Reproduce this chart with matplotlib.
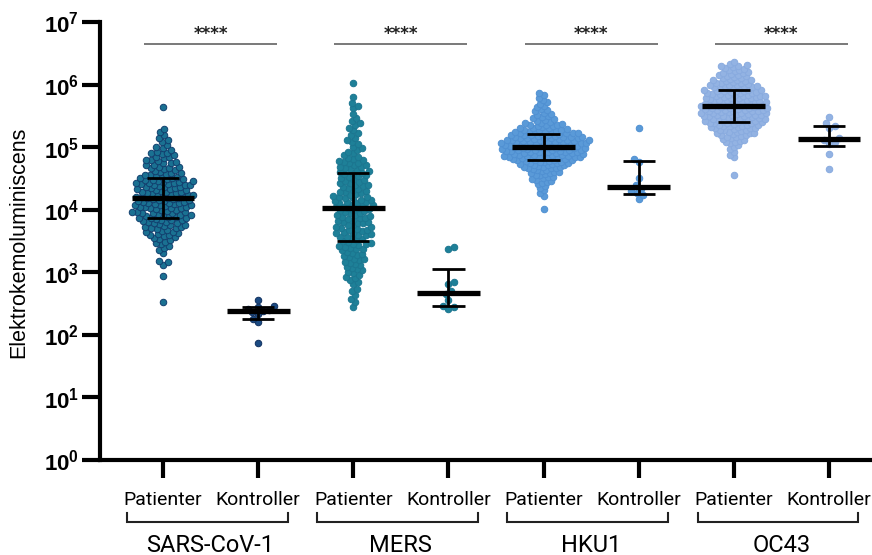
import numpy as np
import matplotlib
matplotlib.use('Agg')
import matplotlib.pyplot as plt
from matplotlib.transforms import blended_transform_factory

# ---------------- data (log10 of electrochemiluminescence signal) ----------------
viruses = ['SARS-CoV-1', 'MERS', 'HKU1', 'OC43']
groups = ['Patienter', 'Kontroller']
significance = ['****', '****', '****', '****']

sars_pat = [2.52, 2.94, 3.12, 3.16, 3.18, 3.31, 3.36, 3.39, 3.42, 3.45, 3.47, 3.49,
            3.51, 3.53, 3.55, 3.56, 3.58, 3.59,
            3.60, 3.61, 3.62, 3.64, 3.65, 3.66, 3.68, 3.69,
            3.70, 3.71, 3.72, 3.73, 3.74, 3.75, 3.76, 3.77, 3.78, 3.79,
            3.80, 3.81, 3.82, 3.83, 3.83, 3.84, 3.85, 3.86, 3.86, 3.87, 3.88, 3.89,
            3.90, 3.91, 3.92, 3.92, 3.93, 3.94, 3.95, 3.95, 3.96, 3.97, 3.97, 3.98, 3.99,
            4.00, 4.01, 4.02, 4.02, 4.03, 4.04, 4.05, 4.05, 4.06, 4.07, 4.07, 4.08, 4.09, 4.09,
            4.10, 4.11, 4.11, 4.12, 4.13, 4.14, 4.14, 4.15, 4.16, 4.17, 4.17, 4.18, 4.19, 4.19,
            4.20, 4.21, 4.21, 4.22, 4.23, 4.24, 4.24, 4.25, 4.26, 4.27, 4.27, 4.28, 4.29, 4.29,
            4.30, 4.31, 4.32, 4.33, 4.33, 4.34, 4.35, 4.36, 4.36, 4.37, 4.38, 4.39, 4.39,
            4.40, 4.41, 4.41, 4.42, 4.43, 4.43, 4.44, 4.45, 4.46, 4.46, 4.47, 4.48, 4.49, 4.49,
            4.50, 4.51, 4.52, 4.53, 4.54, 4.55, 4.56, 4.57, 4.58, 4.59,
            4.60, 4.62, 4.63, 4.65, 4.66, 4.67, 4.68, 4.69,
            4.71, 4.72, 4.74, 4.75, 4.76, 4.78, 4.79,
            4.80, 4.82, 4.84, 4.85, 4.87, 4.89,
            4.90, 4.91, 4.93, 4.95, 4.98,
            5.01, 5.04, 5.08, 5.12, 5.15, 5.19, 5.24, 5.29, 5.64]
sars_ctl = [1.87, 2.20, 2.25, 2.33, 2.36, 2.38, 2.40, 2.42, 2.44, 2.46, 2.55]

mers_pat = [2.44, 2.52, 2.58, 2.63, 2.70, 2.74,
            2.81, 2.84, 2.88, 2.91, 2.93, 2.96, 2.99,
            3.01, 3.03, 3.05, 3.07, 3.09, 3.11, 3.13, 3.15, 3.17, 3.19,
            3.21, 3.22, 3.24, 3.26, 3.28, 3.30, 3.31, 3.33, 3.35, 3.37, 3.38, 3.39,
            3.41, 3.42, 3.44, 3.45, 3.46, 3.47, 3.49, 3.50, 3.52, 3.53, 3.55, 3.56, 3.57, 3.59,
            3.60, 3.61, 3.62, 3.63, 3.64, 3.66, 3.67, 3.68, 3.69, 3.71, 3.72, 3.73, 3.75, 3.76, 3.78, 3.79,
            3.80, 3.81, 3.82, 3.84, 3.85, 3.86, 3.87, 3.88, 3.90, 3.91, 3.92, 3.94, 3.95, 3.96, 3.98, 3.99,
            4.00, 4.01, 4.02, 4.03, 4.04, 4.05, 4.06, 4.07, 4.08, 4.10, 4.11, 4.12, 4.13, 4.14, 4.15, 4.16, 4.18, 4.19,
            4.20, 4.21, 4.22, 4.24, 4.25, 4.26, 4.28, 4.29, 4.30, 4.32, 4.33, 4.35, 4.36, 4.38, 4.39,
            4.40, 4.42, 4.43, 4.45, 4.46, 4.48, 4.49, 4.51, 4.52, 4.54, 4.55, 4.57, 4.58, 4.59,
            4.60, 4.62, 4.63, 4.65, 4.66, 4.68, 4.69, 4.71, 4.72, 4.74, 4.75, 4.77, 4.78, 4.79,
            4.81, 4.83, 4.85, 4.88, 4.90, 4.93, 4.95, 4.98,
            5.01, 5.05, 5.09, 5.12, 5.15, 5.19,
            5.22, 5.27, 5.31, 5.35, 5.38,
            5.42, 5.46, 5.53, 5.62, 5.66, 5.70, 5.80, 6.02]
mers_ctl = [2.42, 2.44, 2.46, 2.56, 2.65, 2.70, 2.81, 2.85, 3.38, 3.40]

hku1_pat = [4.01, 4.22, 4.27, 4.31, 4.35, 4.38,
            4.41, 4.43, 4.45, 4.46, 4.48, 4.49,
            4.50, 4.52, 4.53, 4.55, 4.56, 4.57, 4.58, 4.59,
            4.60, 4.61, 4.62, 4.63, 4.64, 4.65, 4.66, 4.67, 4.67, 4.68, 4.69, 4.69,
            4.70, 4.71, 4.71, 4.72, 4.73, 4.73, 4.74, 4.75, 4.75, 4.76, 4.77, 4.77, 4.78, 4.78, 4.79, 4.79,
            4.80, 4.80, 4.81, 4.81, 4.82, 4.82, 4.83, 4.83, 4.84, 4.84, 4.84, 4.85, 4.85,
            4.86, 4.86, 4.86, 4.87, 4.87, 4.88, 4.88, 4.89, 4.89,
            4.90, 4.90, 4.91, 4.91, 4.92, 4.92, 4.92, 4.93, 4.93, 4.94, 4.94, 4.94,
            4.95, 4.95, 4.96, 4.96, 4.96, 4.97, 4.97, 4.98, 4.98, 4.98, 4.99, 4.99,
            5.00, 5.00, 5.01, 5.01, 5.02, 5.02, 5.02, 5.03, 5.03, 5.04, 5.04, 5.04,
            5.05, 5.05, 5.06, 5.06, 5.06, 5.07, 5.07, 5.08, 5.08, 5.08, 5.09, 5.09,
            5.10, 5.10, 5.11, 5.11, 5.12, 5.12, 5.12, 5.13, 5.13, 5.14, 5.14,
            5.15, 5.15, 5.15, 5.16, 5.16, 5.17, 5.17, 5.18, 5.18, 5.19, 5.19,
            5.20, 5.20, 5.21, 5.21, 5.22, 5.22, 5.23, 5.23, 5.24, 5.24,
            5.25, 5.25, 5.26, 5.26, 5.27, 5.28, 5.28, 5.29,
            5.30, 5.31, 5.31, 5.32, 5.33, 5.34, 5.35, 5.36, 5.36, 5.37, 5.38, 5.39,
            5.40, 5.42, 5.43, 5.45, 5.46, 5.48, 5.49,
            5.51, 5.53, 5.55, 5.57, 5.59,
            5.61, 5.64, 5.66, 5.69, 5.72, 5.75, 5.78, 5.83, 5.86]
hku1_ctl = [4.17, 4.23, 4.26, 4.30, 4.33, 4.39, 4.50, 4.76, 4.81, 5.30]

oc43_pat = [4.55, 4.84, 4.88, 4.93, 4.97,
            5.01, 5.03, 5.06, 5.08, 5.09,
            5.10, 5.12, 5.13, 5.14, 5.16, 5.17, 5.18, 5.19,
            5.20, 5.21, 5.22, 5.22, 5.23, 5.24, 5.25, 5.26, 5.27, 5.27, 5.28, 5.29,
            5.30, 5.30, 5.31, 5.32, 5.32, 5.33, 5.34, 5.34, 5.35, 5.36, 5.36, 5.37, 5.38, 5.38, 5.39, 5.39,
            5.40, 5.40, 5.41, 5.41, 5.42, 5.42, 5.43, 5.44, 5.44, 5.45, 5.45, 5.46, 5.46, 5.47,
            5.48, 5.48, 5.49, 5.49,
            5.50, 5.50, 5.51, 5.51, 5.52, 5.52, 5.53, 5.53, 5.54, 5.54,
            5.55, 5.55, 5.56, 5.56, 5.57, 5.57, 5.58, 5.58, 5.59, 5.59,
            5.60, 5.60, 5.61, 5.61, 5.62, 5.62, 5.63, 5.63, 5.64, 5.64,
            5.65, 5.65, 5.66, 5.66, 5.67, 5.67, 5.68, 5.68, 5.69, 5.69,
            5.70, 5.70, 5.71, 5.71, 5.72, 5.72, 5.73, 5.74, 5.74, 5.75, 5.75,
            5.76, 5.76, 5.77, 5.78, 5.78, 5.79, 5.79,
            5.80, 5.80, 5.81, 5.81, 5.82, 5.82, 5.83, 5.84, 5.84, 5.85, 5.85,
            5.86, 5.86, 5.87, 5.88, 5.88, 5.89, 5.89,
            5.90, 5.90, 5.91, 5.92, 5.92, 5.93, 5.94, 5.94, 5.95, 5.96, 5.96, 5.97, 5.98, 5.98, 5.99, 5.99,
            6.00, 6.01, 6.02, 6.02, 6.03, 6.04, 6.05, 6.06, 6.07, 6.07, 6.08, 6.09,
            6.10, 6.11, 6.12, 6.13, 6.14, 6.15, 6.16, 6.17, 6.18, 6.19,
            6.20, 6.21, 6.23, 6.24, 6.25, 6.27, 6.28, 6.29,
            6.30, 6.31, 6.33, 6.36]
oc43_ctl = [4.65, 4.89, 5.05, 5.08, 5.11, 5.14, 5.30, 5.33, 5.38, 5.48]

series = [sars_pat, sars_ctl, mers_pat, mers_ctl, hku1_pat, hku1_ctl, oc43_pat, oc43_ctl]
fill_colors = ['#1a7192', '#1b4a82', '#1e8098', '#1e8098', '#5a9ad8', '#5a9ad8', '#93b3e3', '#93b3e3']
edge_colors = ['#12406f', '#10305f', '#1b7690', '#1b7690', '#5090d2', '#5090d2', '#89abdf', '#89abdf']
swarm_spacing = [5.2, 6.0, 5.2, 6.0, 4.6, 6.0, 4.6, 6.0]

# ---------------- figure ----------------
W, H = 872, 555
plt.rcParams['mathtext.fontset'] = 'custom'
plt.rcParams['mathtext.bf'] = 'Liberation Sans:bold'
plt.rcParams['mathtext.rm'] = 'Liberation Sans'

fig = plt.figure(figsize=(W / 100, H / 100), dpi=100)
ax_left, ax_bottom_px, ax_top_px = 100, 460, 22
ax = fig.add_axes([ax_left / W, 1 - ax_bottom_px / H, 1 - ax_left / W, (ax_bottom_px - ax_top_px) / H])

xmin, xmax = -0.662, 7.452
ax.set_xlim(xmin, xmax)
ax.set_yscale('log')
ax.set_ylim(1, 1e7)

px_per_x = (W - ax_left) / (xmax - xmin)
px_per_dec = (ax_bottom_px - ax_top_px) / 7.0


def swarm(logvals, d):
    y = np.asarray(logvals, dtype=float) * px_per_dec
    order = np.argsort(y, kind='stable')
    xs = np.zeros(len(y))
    placed = []
    flip = 1
    for i in order:
        yi = y[i]
        near = [(xj, yj) for (xj, yj) in placed if abs(yj - yi) < d]
        cands = [0.0]
        for xj, yj in near:
            dx = np.sqrt(max(d * d - (yj - yi) ** 2, 0.0))
            cands += [xj - dx, xj + dx]
        cands = sorted(cands, key=lambda c: (round(abs(c), 3), flip * c))
        chosen = cands[-1]
        for c in cands:
            if all((c - xj) ** 2 + (yi - yj) ** 2 >= d * d - 1e-6 for xj, yj in near):
                chosen = c
                break
        xs[i] = chosen
        placed.append((chosen, yi))
        flip = -flip
    return xs / px_per_x


for i, vals in enumerate(series):
    vals = np.asarray(vals)
    xo = swarm(vals, swarm_spacing[i])
    lin = 10 ** vals
    ax.scatter(i + xo, lin, s=22, c=fill_colors[i], edgecolors=edge_colors[i],
               linewidths=0.7, zorder=2, clip_on=False)
    q1, med, q3 = np.percentile(lin, [25, 50, 75], method='weibull')
    ax.hlines(med, i - 0.33, i + 0.33, colors='black', lw=3.8, zorder=4)
    ax.vlines(i, q1, q3, colors='black', lw=2.0, zorder=4)
    ax.hlines([q1, q3], i - 0.17, i + 0.17, colors='black', lw=2.0, zorder=4)

# significance bars
for k, sig in enumerate(significance):
    a, b = 2 * k - 0.2, 2 * k + 1.2
    ax.hlines(10 ** 6.645, a, b, colors='#555555', lw=1.1, zorder=3)
    ax.text(2 * k + 0.5, 10 ** 6.66, sig, ha='center', va='bottom', fontsize=12,
            fontweight='bold', color='#222222', family='DejaVu Sans')

# axes styling
for s in ['top', 'right']:
    ax.spines[s].set_visible(False)
for s in ['left', 'bottom']:
    ax.spines[s].set_linewidth(3.0)
    ax.spines[s].set_color('black')

ax.set_yticks([10 ** k for k in range(8)])
ax.set_yticklabels([r'$\mathbf{10^{%d}}$' % k for k in range(8)])
ax.yaxis.set_minor_locator(matplotlib.ticker.NullLocator())
ax.tick_params(axis='y', length=13, width=3.0, labelsize=16, pad=2)

ax.set_xticks(range(8))
ax.set_xticklabels(groups * 4, fontsize=14, family='Roboto')
ax.tick_params(axis='x', length=13, width=3.0, pad=9)

fig.text(19 / W, 1 - 242 / H, 'Elektrokemoluminiscens', rotation=90, ha='center',
         va='center', fontsize=15.5, family='Liberation Sans')

# group brackets and labels
tr = blended_transform_factory(ax.transData, fig.transFigure)
for k, name in enumerate(viruses):
    a, b = 2 * k - 0.38, 2 * k + 1.31
    ytop, ybot = 1 - 513 / H, 1 - 522 / H
    ax.plot([a, a, b, b], [ytop, ybot, ybot, ytop], color='#222222', lw=1.5,
            transform=tr, clip_on=False, solid_joinstyle='miter')
    ax.text(2 * k + 0.5, 1 - 545 / H, name, transform=tr, ha='center', va='center',
            fontsize=17, family='Roboto')

fig.savefig('out.png', dpi=100)
